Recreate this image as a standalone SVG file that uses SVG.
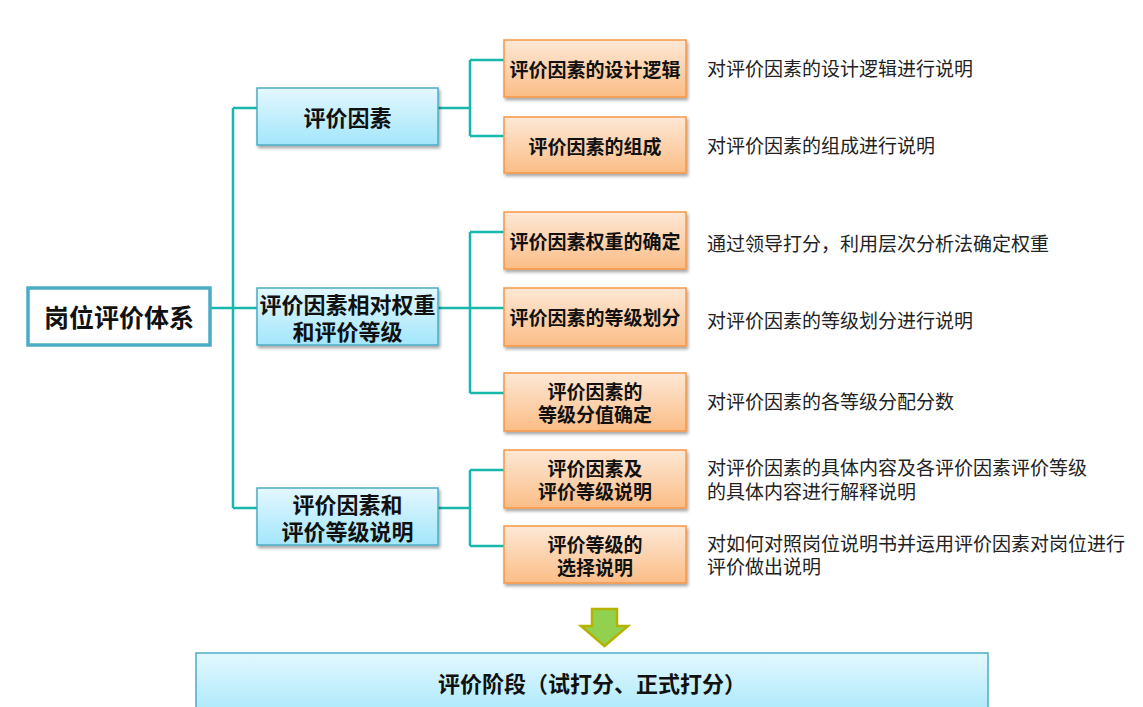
<svg xmlns="http://www.w3.org/2000/svg" width="1143" height="707" viewBox="0 0 1143 707">
<defs>
<linearGradient id="gBlue" x1="0" y1="0" x2="0" y2="1">
<stop offset="0" stop-color="#e3f8fe"/>
<stop offset="1" stop-color="#a3e6fb"/>
</linearGradient>
<linearGradient id="gOrange" x1="0" y1="0" x2="0" y2="1">
<stop offset="0" stop-color="#fde8d6"/>
<stop offset="1" stop-color="#fbbd86"/>
</linearGradient>
<filter id="sh" x="-10%" y="-20%" width="130%" height="150%">
<feDropShadow dx="1.5" dy="2.5" stdDeviation="1.5" flood-color="#000" flood-opacity="0.35"/>
</filter>
</defs>
<style>
.blue{fill:url(#gBlue);stroke:#4bacc6;stroke-width:1.5}
.orange{fill:url(#gOrange);stroke:#f79646;stroke-width:1.5}
.root{fill:#fff;stroke:#4bacc6;stroke-width:3.5}
.conn{fill:none;stroke:#17b8ac;stroke-width:2.5}
text{font-family:"Noto Sans CJK SC","Noto Sans",sans-serif;fill:#111}
.t1{font-size:22px;font-weight:700;text-anchor:middle;dominant-baseline:central}
.t2{font-size:19px;font-weight:700;text-anchor:middle;dominant-baseline:central}
.t0{font-size:25px;font-weight:700;text-anchor:middle;dominant-baseline:central}
.desc{font-size:19px;fill:#222;dominant-baseline:central}
</style>
<rect width="1143" height="707" fill="#fff"/>

<g id="connectors">
<path class="conn" d="M210 308H257 M233 108V508 M233 108H257 M233 508H257"/>
<path class="conn" d="M438 108H470 M470 60V136 M470 60H504 M470 136H504"/>
<path class="conn" d="M438 308H504 M470 232V393 M470 232H504 M470 393H504"/>
<path class="conn" d="M438 508H470 M470 470V546 M470 470H504 M470 546H504"/>
</g>

<g id="root">
<rect class="root" x="28" y="288" width="182" height="57"/>
<text class="t0" x="119" y="316">岗位评价体系</text>
</g>

<g id="n1">
<rect class="blue" x="257" y="88" width="181" height="57" filter="url(#sh)"/>
<text class="t1" x="347.5" y="116">评价因素</text>
</g>
<g id="n2">
<rect class="blue" x="257" y="288" width="181" height="57" filter="url(#sh)"/>
<text class="t1" x="347.5" y="303"><tspan x="347.5" y="303">评价因素相对权重</tspan><tspan x="347.5" y="330">和评价等级</tspan></text>
</g>
<g id="n3">
<rect class="blue" x="257" y="488" width="181" height="57" filter="url(#sh)"/>
<text class="t1" x="347.5" y="503"><tspan x="347.5" y="503">评价因素和</tspan><tspan x="347.5" y="530">评价等级说明</tspan></text>
</g>

<g id="o1">
<rect class="orange" x="504" y="40" width="182" height="57" filter="url(#sh)"/>
<text class="t2" x="595" y="68">评价因素的设计逻辑</text>
</g>
<g id="o2">
<rect class="orange" x="504" y="117" width="182" height="56" filter="url(#sh)"/>
<text class="t2" x="595" y="145">评价因素的组成</text>
</g>
<g id="o3">
<rect class="orange" x="504" y="212" width="182" height="57" filter="url(#sh)"/>
<text class="t2" x="595" y="240">评价因素权重的确定</text>
</g>
<g id="o4">
<rect class="orange" x="504" y="288" width="182" height="58" filter="url(#sh)"/>
<text class="t2" x="595" y="316">评价因素的等级划分</text>
</g>
<g id="o5">
<rect class="orange" x="504" y="373" width="182" height="58" filter="url(#sh)"/>
<text class="t2" x="595" y="390"><tspan x="595" y="390">评价因素的</tspan><tspan x="595" y="413">等级分值确定</tspan></text>
</g>
<g id="o6">
<rect class="orange" x="504" y="450" width="182" height="58" filter="url(#sh)"/>
<text class="t2" x="595" y="467"><tspan x="595" y="467">评价因素及</tspan><tspan x="595" y="490">评价等级说明</tspan></text>
</g>
<g id="o7">
<rect class="orange" x="504" y="526" width="182" height="57" filter="url(#sh)"/>
<text class="t2" x="595" y="543"><tspan x="595" y="543">评价等级的</tspan><tspan x="595" y="566">选择说明</tspan></text>
</g>

<g id="descs">
<text class="desc" x="707" y="67">对评价因素的设计逻辑进行说明</text>
<text class="desc" x="707" y="144">对评价因素的组成进行说明</text>
<text class="desc" x="707" y="242">通过领导打分，利用层次分析法确定权重</text>
<text class="desc" x="707" y="319">对评价因素的等级划分进行说明</text>
<text class="desc" x="707" y="400">对评价因素的各等级分配分数</text>
<text class="desc" x="707" y="466"><tspan x="707" y="466">对评价因素的具体内容及各评价因素评价等级</tspan><tspan x="707" y="490">的具体内容进行解释说明</tspan></text>
<text class="desc" x="707" y="542"><tspan x="707" y="542">对如何对照岗位说明书并运用评价因素对岗位进行</tspan><tspan x="707" y="565">评价做出说明</tspan></text>
</g>

<g id="arrow">
<path d="M592 609H617V626H628L604.5 646L581 626H592Z" fill="#92d050" stroke="#b4b400" stroke-width="2.5" stroke-linejoin="miter"/>
</g>

<g id="stage">
<rect class="blue" x="196" y="653" width="792" height="70"/>
<text class="t1" x="592" y="682">评价阶段（试打分、正式打分）</text>
</g>
</svg>
